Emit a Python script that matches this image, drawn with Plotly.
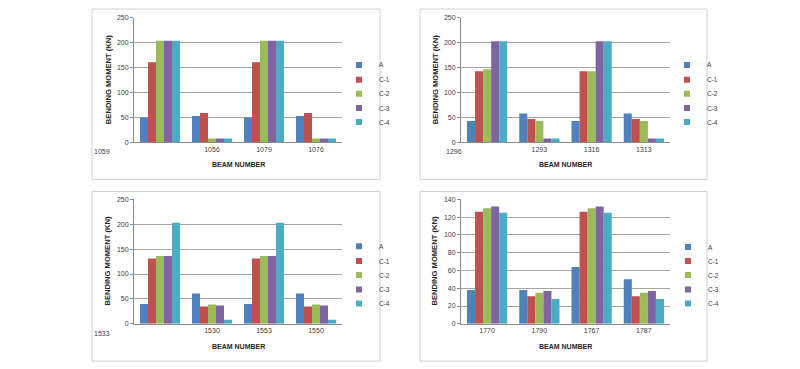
import plotly.graph_objects as go

# The page body has an 8px margin, so the figure is drawn at (8, 8).
OFF = 8
W, H = 800 - OFF, 369 - OFF

series_names = ["A", "C-1", "C-2", "C-3", "C-4"]
colors = ["#4F81BD", "#C0504D", "#9BBB59", "#8064A2", "#4BACC6"]

# Panel 1 (top-left)
cats_1 = ["1059", "1056", "1079", "1076"]
vals_1 = {
    "A":   [50, 53, 50, 53],
    "C-1": [161, 59, 161, 59],
    "C-2": [204, 8, 204, 8],
    "C-3": [204, 8, 204, 8],
    "C-4": [204, 8, 204, 8],
}
# Panel 2 (top-right)
cats_2 = ["1296", "1293", "1316", "1313"]
vals_2 = {
    "A":   [43, 58, 43, 58],
    "C-1": [143, 47, 143, 47],
    "C-2": [147, 43, 143, 43],
    "C-3": [203, 8, 203, 8],
    "C-4": [203, 8, 203, 8],
}
# Panel 3 (bottom-left)
cats_3 = ["1533", "1530", "1553", "1550"]
vals_3 = {
    "A":   [40, 61, 40, 61],
    "C-1": [131, 35, 131, 35],
    "C-2": [136, 39, 136, 39],
    "C-3": [136, 37, 136, 37],
    "C-4": [203, 8, 203, 8],
}
# Panel 4 (bottom-right)
cats_4 = ["1770", "1790", "1767", "1787"]
vals_4 = {
    "A":   [38, 38, 64, 50],
    "C-1": [126, 31, 126, 31],
    "C-2": [130, 35, 130, 35],
    "C-3": [132, 37, 132, 37],
    "C-4": [125, 28, 125, 28],
}

x_title = "BEAM NUMBER"
y_title = "BENDING MOMENT (KN)"


def px(x):
    return (x - OFF) / W


def py(y):
    return 1 - (y - OFF) / H


# layout geometry in screen pixels
panels = [
    dict(cats=cats_1, vals=vals_1, plot=(134, 342, 14, 141), box=(92, 380, 5, 179),
         yrange=[0, 250], dtick=50, first_off=True, first_x=102,
         leg_x=356, leg_y=[62, 77, 91.3, 106, 120.3]),
    dict(cats=cats_2, vals=vals_2, plot=(461, 670, 14, 141), box=(420, 707, 5, 179),
         yrange=[0, 250], dtick=50, first_off=True, first_x=454,
         leg_x=684, leg_y=[62, 77, 91.3, 106, 120.3]),
    dict(cats=cats_3, vals=vals_3, plot=(134, 342, 199, 326), box=(92, 380, 191, 364),
         yrange=[0, 250], dtick=50, first_off=True, first_x=102,
         leg_x=356, leg_y=[247, 262, 276.3, 291, 305.3]),
    dict(cats=cats_4, vals=vals_4, plot=(461, 670, 199, 326), box=(420, 707, 191, 364),
         yrange=[0, 140], dtick=20, first_off=False, first_x=None,
         leg_x=685, leg_y=[247.7, 262, 276.3, 291, 305.3]),
]

FONT = "Liberation Sans"
fig = go.Figure()
annotations = []
shapes = []
leg_count = 0

for i, p in enumerate(panels):
    n = i + 1
    xa = "x" if n == 1 else f"x{n}"
    ya = "y" if n == 1 else f"y{n}"
    for s, (name, col) in enumerate(zip(series_names, colors)):
        fig.add_trace(go.Bar(
            x=p["cats"], y=p["vals"][name], name=name,
            marker=dict(color=col, line=dict(width=0)),
            xaxis=xa, yaxis=ya, showlegend=False,
        ))
        # legend entry (small square key), one legend box per entry
        leg_count += 1
        lg = "legend" if leg_count == 1 else f"legend{leg_count}"
        fig.add_trace(go.Scatter(
            x=[None], y=[None], name=name, mode="markers",
            marker=dict(symbol="square", size=6, color=col),
            xaxis=xa, yaxis=ya, legend=lg, showlegend=True,
        ))
        fig.layout[lg] = dict(
            x=px(p["leg_x"] - 17), y=py(p["leg_y"][s]),
            xanchor="left", yanchor="middle",
            font=dict(family=FONT, size=6.5, color="#404040"),
            bgcolor="rgba(0,0,0,0)", itemwidth=30, borderwidth=0,
        )
    x0, x1, y0, y1 = p["plot"]
    xkey = "xaxis" if n == 1 else f"xaxis{n}"
    ykey = "yaxis" if n == 1 else f"yaxis{n}"
    tickcats = p["cats"][1:] if p["first_off"] else p["cats"]
    fig.layout[xkey] = dict(
        domain=[px(x0), px(x1)], anchor=ya, type="category",
        categoryorder="array", categoryarray=p["cats"],
        tickmode="array", tickvals=tickcats, ticktext=tickcats,
        showline=True, linecolor="#8c8c8c", linewidth=1,
        ticks="", showgrid=False,
        tickfont=dict(family=FONT, size=7, color="#404040"),
    )
    fig.layout[ykey] = dict(
        domain=[py(y1), py(y0)], anchor=xa,
        range=p["yrange"], dtick=p["dtick"],
        showline=True, linecolor="#8c8c8c", linewidth=1,
        ticks="outside", ticklen=3, tickcolor="#8c8c8c",
        showgrid=True, gridcolor="#a6a6a6", gridwidth=1,
        zeroline=False,
        tickfont=dict(family=FONT, size=7, color="#404040"),
    )
    # axis titles
    annotations.append(dict(
        text=f"<b>{x_title}</b>", x=px((x0 + x1) / 2), y=py(y1 + 23),
        xref="paper", yref="paper", showarrow=False,
        font=dict(family=FONT, size=7, color="#262626"),
        xanchor="center", yanchor="middle",
    ))
    annotations.append(dict(
        text=f"<b>{y_title}</b>", x=px(x0 - 26), y=py((y0 + y1) / 2),
        xref="paper", yref="paper", showarrow=False, textangle=-90,
        font=dict(family=FONT, size=7.6, color="#262626"),
        xanchor="center", yanchor="middle",
    ))
    if p["first_off"]:
        annotations.append(dict(
            text=p["cats"][0], x=px(p["first_x"]), y=py(y1 + 9.5),
            xref="paper", yref="paper", showarrow=False,
            font=dict(family=FONT, size=7, color="#404040"),
            xanchor="center", yanchor="middle",
        ))
    bx0, bx1, by0, by1 = p["box"]
    shapes.append(dict(
        type="rect", xref="paper", yref="paper",
        x0=px(bx0), x1=px(bx1), y0=py(by1), y1=py(by0),
        line=dict(color="#d0d0d0", width=1), fillcolor="rgba(0,0,0,0)",
    ))

fig.update_layout(
    width=W, height=H,
    margin=dict(l=0, r=0, t=0, b=0),
    paper_bgcolor="white", plot_bgcolor="white",
    barmode="group", bargap=0.23, bargroupgap=0,
    annotations=annotations, shapes=shapes,
    font=dict(family=FONT),
)

fig.write_html("out.html")
